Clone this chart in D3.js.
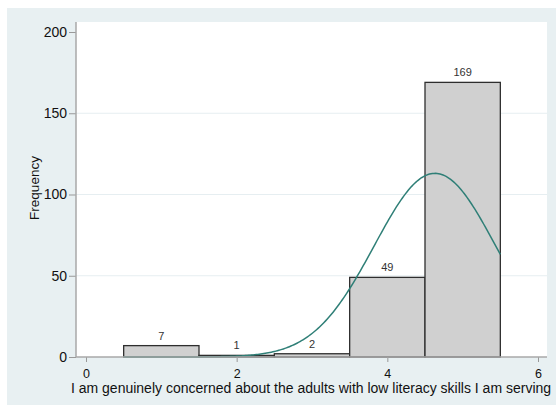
<!DOCTYPE html>
<html>
<head>
<meta charset="utf-8">
<script src="https://cdn.jsdelivr.net/npm/d3@7"></script>
<style>
  html, body { margin: 0; padding: 0; background: #ffffff; }
  svg { display: block; font-family: "Liberation Sans", Arial, sans-serif; }
</style>
</head>
<body>
<svg id="chart" width="556" height="407"></svg>
<script>
// Response categories (bin centres) and their counts
const categories = [1, 2, 3, 4, 5];
const counts = [7, 1, 2, 49, 169];
const xTicks = [0, 2, 4, 6];
const yTicks = [0, 50, 100, 150, 200];
const xTitle = "I am genuinely concerned about the adults with low literacy skills I am serving";
const yTitle = "Frequency";

const svg = d3.select("#chart");

// Graph region and plot region
const outer = { x0: 7, y0: 8, x1: 556, y1: 405 };
const plot = { left: 76, top: 22, right: 547, bottom: 357 };

svg.append("rect")
  .attr("x", outer.x0).attr("y", outer.y0)
  .attr("width", outer.x1 - outer.x0).attr("height", outer.y1 - outer.y0)
  .attr("fill", "#e8f0f2");

svg.append("rect")
  .attr("x", plot.left).attr("y", plot.top)
  .attr("width", plot.right - plot.left).attr("height", plot.bottom - plot.top)
  .attr("fill", "#ffffff");

const x = d3.scaleLinear().domain([0, 6]).range([86, 538]);
const y = d3.scaleLinear().domain([0, 200]).range([357, 32]);

// Horizontal grid lines
svg.append("g").selectAll("line")
  .data(yTicks.filter(t => t > 0 && t < 200))
  .join("line")
  .attr("x1", plot.left).attr("x2", plot.right)
  .attr("y1", d => y(d)).attr("y2", d => y(d))
  .attr("stroke", "#e6eef1").attr("stroke-width", 1.2);

// Histogram bars (bin width 1)
const binHalf = 0.5;
svg.append("g").selectAll("rect")
  .data(categories.map((c, i) => ({ c, n: counts[i] })))
  .join("rect")
  .attr("x", d => x(d.c - binHalf))
  .attr("y", d => y(d.n))
  .attr("width", d => x(d.c + binHalf) - x(d.c - binHalf))
  .attr("height", d => y(0) - y(d.n))
  .attr("fill", "#d0d0d0")
  .attr("stroke", "#2e2e2e")
  .attr("stroke-width", 1.3);

// Count labels above bars
svg.append("g").selectAll("text")
  .data(categories.map((c, i) => ({ c, n: counts[i] })))
  .join("text")
  .attr("x", d => x(d.c))
  .attr("y", d => y(d.n) - 6)
  .attr("text-anchor", "middle")
  .attr("font-size", 11)
  .attr("fill", "#333333")
  .text(d => d.n);

// Normal density overlay scaled to frequency, from the sample mean and sd
const N = d3.sum(counts);
const mean = d3.sum(categories.map((c, i) => c * counts[i])) / N;
const variance = d3.sum(categories.map((c, i) => counts[i] * (c - mean) ** 2)) / (N - 1);
const sd = Math.sqrt(variance);
const xs = d3.range(0.5, 5.5001, 0.02);
const normal = xs.map(v => [v, N * 1 * Math.exp(-0.5 * ((v - mean) / sd) ** 2) / (sd * Math.sqrt(2 * Math.PI))]);

svg.append("path")
  .datum(normal)
  .attr("fill", "none")
  .attr("stroke", "#2f7f77")
  .attr("stroke-width", 1.5)
  .attr("d", d3.line().x(d => x(d[0])).y(d => y(d[1])));

// Axes
const xAxis = svg.append("g")
  .attr("transform", `translate(0,${plot.bottom})`)
  .call(d3.axisBottom(x).tickValues(xTicks).tickSize(5).tickPadding(7).tickFormat(d3.format("d")));
xAxis.select(".domain").remove();
xAxis.selectAll(".tick line").attr("stroke", "#999999");
xAxis.selectAll(".tick text").attr("font-size", 12.5).attr("fill", "#111111")
  .attr("font-family", "Liberation Sans, Arial, sans-serif");

const yAxis = svg.append("g")
  .attr("transform", `translate(${plot.left},0)`)
  .call(d3.axisLeft(y).tickValues(yTicks).tickSize(7).tickPadding(2).tickFormat(d3.format("d")));
yAxis.select(".domain").remove();
yAxis.selectAll(".tick line").attr("stroke", "#999999");
yAxis.selectAll(".tick text").attr("font-size", 14).attr("fill", "#111111")
  .attr("font-family", "Liberation Sans, Arial, sans-serif");

// Axis lines
svg.append("line")
  .attr("x1", plot.left).attr("x2", plot.right)
  .attr("y1", plot.bottom).attr("y2", plot.bottom)
  .attr("stroke", "#a8a8a8").attr("stroke-width", 1.5);
svg.append("line")
  .attr("x1", plot.left).attr("x2", plot.left)
  .attr("y1", plot.top).attr("y2", plot.bottom)
  .attr("stroke", "#a8a8a8").attr("stroke-width", 1.5);

// Titles
svg.append("text")
  .attr("x", 311)
  .attr("y", 393)
  .attr("text-anchor", "middle")
  .attr("font-size", 14)
  .attr("fill", "#111111")
  .text(xTitle);

svg.append("text")
  .attr("transform", `translate(39,188) rotate(-90)`)
  .attr("text-anchor", "middle")
  .attr("font-size", 13.5)
  .attr("fill", "#111111")
  .text(yTitle);
</script>
</body>
</html>
